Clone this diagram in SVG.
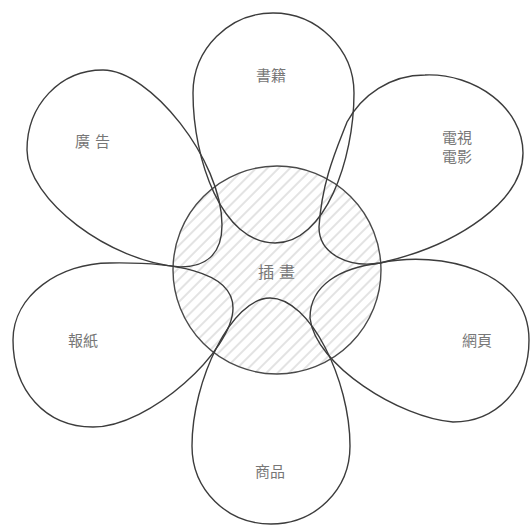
<svg xmlns="http://www.w3.org/2000/svg" width="531" height="526" viewBox="0 0 531 526">
  <style>
    .petal { fill: none; stroke: #3c3c3c; stroke-width: 1.4; }
    .core { fill: url(#hatch); stroke: #4a4a4a; stroke-width: 1.4; }
    .lbl { font-family: "Noto Sans CJK TC", "Noto Sans CJK SC", sans-serif; font-size: 15px; fill: #777; text-anchor: middle; dominant-baseline: central; }
  </style>
  <defs>
    <pattern id="hatch" patternUnits="userSpaceOnUse" width="8" height="8" patternTransform="rotate(-45)">
      <rect width="8" height="8" fill="#fff"/>
      <line x1="0" y1="4" x2="8" y2="4" stroke="#c8c8c8" stroke-width="1"/>
    </pattern>
  </defs>
  <rect width="531" height="526" fill="#fff"/>
  <g id="center">
    <circle class="core" cx="277" cy="270" r="104"/>
    <text class="lbl" x="279" y="271" letter-spacing="5" style="font-size:16px">插畫</text>
  </g>
  <g id="petal-books">
    <path class="petal" d="M273,13 C317,13 354,49 354,93 C354,160 325,243 275,243 C222,243 193,160 193,93 C193,49 229,13 273,13 Z"/>
    <text class="lbl" x="271" y="74">書籍</text>
  </g>
  <g id="petal-tv">
    <path class="petal" d="M425,75 C475,73 523,108 523,153 C523,200 460,245 380,263 C350,268 319,255 319,227 C322,180 337,148 347,122 C362,95 390,75 425,75 Z"/>
    <text class="lbl" x="457" y="136">電視</text>
    <text class="lbl" x="457" y="155">電影</text>
  </g>
  <g id="petal-web">
    <path class="petal" d="M380,263 C440,250 529,270 529,340 C529,390 495,422 453,422 C400,418 315,365 310,318 C310,285 340,268 380,263 Z"/>
    <text class="lbl" x="477" y="339">網頁</text>
  </g>
  <g id="petal-goods">
    <path class="petal" d="M270,298 C310,298 350,380 350,446 C350,490 315,524 271,524 C227,524 192,490 192,446 C192,380 232,298 270,298 Z"/>
    <text class="lbl" x="270" y="470">商品</text>
  </g>
  <g id="petal-newspaper">
    <path class="petal" d="M110,263 C170,262 233,270 233,308 C233,350 150,427 93,427 C45,427 13,390 13,340 C13,295 60,263 110,263 Z"/>
    <text class="lbl" x="83" y="339">報紙</text>
  </g>
  <g id="petal-ads">
    <path class="petal" d="M103,70 C150,70 222,160 222,225 C222,255 205,267 180,267 C110,262 27,200 27,150 C27,105 60,70 103,70 Z"/>
    <text class="lbl" x="95" y="140" letter-spacing="5">廣告</text>
  </g>
  <g id="connectors"/>
</svg>
